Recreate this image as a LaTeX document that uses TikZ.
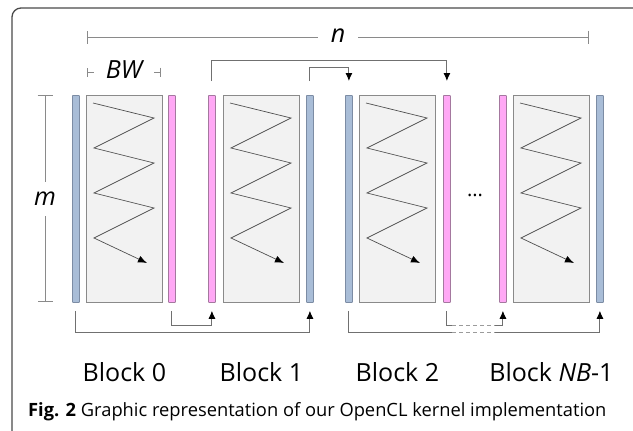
\documentclass[tikz,border=0pt]{standalone}
\usepackage{fontspec}
\setmainfont{Open Sans}
\usetikzlibrary{arrows.meta}

\definecolor{barblue}{HTML}{A9BDD7}
\definecolor{barblueline}{HTML}{7C8CA4}
\definecolor{barpink}{HTML}{FFA8F5}
\definecolor{barpinkline}{HTML}{A4789F}
\definecolor{boxfill}{HTML}{F2F2F2}
\definecolor{boxline}{HTML}{8A8A8A}
\definecolor{dimline}{HTML}{8A8A8A}
\definecolor{connline}{HTML}{707070}
\definecolor{zigline}{HTML}{505050}
\definecolor{frameline}{HTML}{4A4A4A}

\begin{document}
\begin{tikzpicture}[x=1pt,y=-1pt,
  bar/.style={draw,line width=0.8pt,minimum width=7pt,minimum height=207pt,
    inner sep=0pt,anchor=north west,rounded corners=0.6pt},
  bluebar/.style={bar,fill=barblue,draw=barblueline},
  pinkbar/.style={bar,fill=barpink,draw=barpinkline},
  blockbox/.style={draw=boxline,fill=boxfill,line width=0.8pt,minimum width=76pt,
    minimum height=207pt,inner sep=0pt,anchor=north west},
  zig/.style={draw=zigline,line width=0.7pt,-{Latex[length=9pt,width=7pt,color=black]}},
  conn/.style={draw=connline,line width=0.9pt},
  connarrow/.style={conn,-{Latex[length=8pt,width=7pt,color=black]}},
  gapline/.style={draw=connline!70,line width=0.9pt,dash pattern=on 4pt off 3pt},
  dim/.style={draw=dimline,line width=0.9pt},
  dimlabel/.style={font=\fontsize{25}{25}\selectfont\itshape,inner ysep=0pt},
  blocklabel/.style={font=\fontsize{25}{25}\selectfont,anchor=base},
  frame/.style={draw=frameline,line width=1.3pt,rounded corners=9pt}
]
\useasboundingbox (0,0) rectangle (633,431);

% outer frame, only its top and left sides fall inside the page
\begin{scope}
  \clip (0,0) rectangle (633,431);
  \draw[frame] (12,8) rectangle (680,480);
\end{scope}

% the four blocks: edge column, tile, edge column
\node[bluebar] (b0L) at (72,95) {};
\node[blockbox] (box0) at (86,95) {};
\node[pinkbar] (b0R) at (168,95) {};

\node[pinkbar] (b1L) at (208,95) {};
\node[blockbox] (box1) at (223,95) {};
\node[bluebar] (b1R) at (306,95) {};

\node[bluebar] (b2L) at (345,95) {};
\node[blockbox] (box2) at (359,95) {};
\node[pinkbar] (b2R) at (443,95) {};

\node[pinkbar] (b3L) at (499,95) {};
\node[blockbox] (box3) at (513,95) {};
\node[bluebar] (b3R) at (596,95) {};

% zigzag traversal inside each tile
\foreach \b in {box0,box1,box2,box3}{
  \draw[zig] ([shift={(7,8)}]\b.north west) -- ([shift={(68,23)}]\b.north west)
    -- ([shift={(8,53)}]\b.north west) -- ([shift={(68,68)}]\b.north west)
    -- ([shift={(8,98)}]\b.north west) -- ([shift={(68,113)}]\b.north west)
    -- ([shift={(8,143)}]\b.north west) -- ([shift={(61,168)}]\b.north west);
}

% ellipsis between block 2 and the last block
\node[font=\fontsize{20}{20}\selectfont,anchor=base] (dots) at (475,196) {...};

% dimension n
\coordinate (nA) at (87,37);
\coordinate (nB) at (589,37);
\node[dimlabel,inner xsep=13pt] (nlab) at (338,36) {n};
\draw[dim,{Bar[width=13pt]}-] (nA) -- (nA -| nlab.west);
\draw[dim,-{Bar[width=13pt]}] (nB -| nlab.east) -- (nB);

% dimension BW
\coordinate (bwA) at (87,72);
\coordinate (bwB) at (161,72);
\node[dimlabel,inner xsep=12pt] (bwlab) at (124,70) {BW};
\draw[dim,{Bar[width=9pt]}-] (bwA) -- (bwA -| bwlab.west);
\draw[dim,-{Bar[width=9pt]}] (bwB -| bwlab.east) -- (bwB);

% dimension m
\coordinate (mA) at (45,95);
\coordinate (mB) at (45,302);
\node[dimlabel,inner ysep=10pt,inner xsep=2pt] (mlab) at (45,199) {m};
\draw[dim,{Bar[width=15pt]}-] (mA) -- (mA |- mlab.north);
\draw[dim,-{Bar[width=15pt]}] (mB |- mlab.south) -- (mB);

% data exchange above the blocks
\draw[connarrow] ([yshift=14pt]b1L.north) -- ++(0,-21) -| ([yshift=14pt]b2R.north);
\draw[connarrow] ([yshift=14pt]b1R.north) -- ++(0,-14) -| ([yshift=14pt]b2L.north);

% data exchange below the blocks
\draw[connarrow] ([yshift=-8pt]b0L.south) -- ++(0,22) -| ([yshift=-8pt]b1R.south);
\draw[connarrow] ([yshift=-8pt]b0R.south) -- ++(0,15) -| ([yshift=-8pt]b1L.south);

\coordinate (outA) at (452,332);
\coordinate (outB) at (495,332);
\coordinate (inA) at (452,325);
\coordinate (inB) at (495,325);
\draw[conn] ([yshift=-8pt]b2L.south) |- (outA);
\draw[gapline] (outA) -- (outB);
\draw[connarrow] (outB) -| ([yshift=-8pt]b3R.south);
\draw[conn] ([yshift=-8pt]b2R.south) |- (inA);
\draw[gapline] (inA) -- (inB);
\draw[connarrow] (inB) -| ([yshift=-8pt]b3L.south);

% block labels
\coordinate (lab) at (0,381);
\node[blocklabel] (l0) at (box0 |- lab) {Block 0};
\node[blocklabel] (l1) at (box1 |- lab) {Block 1};
\node[blocklabel] (l2) at (box2 |- lab) {Block 2};
\node[blocklabel] (l3) at (box3 |- lab) {Block \textit{NB}-1};

% caption
\node[anchor=base west,inner sep=0pt,font=\fontsize{18.3}{18.3}\selectfont] (cap) at (28,416)
  {\textbf{Fig. 2} Graphic representation of our OpenCL kernel implementation};
\end{tikzpicture}
\end{document}
